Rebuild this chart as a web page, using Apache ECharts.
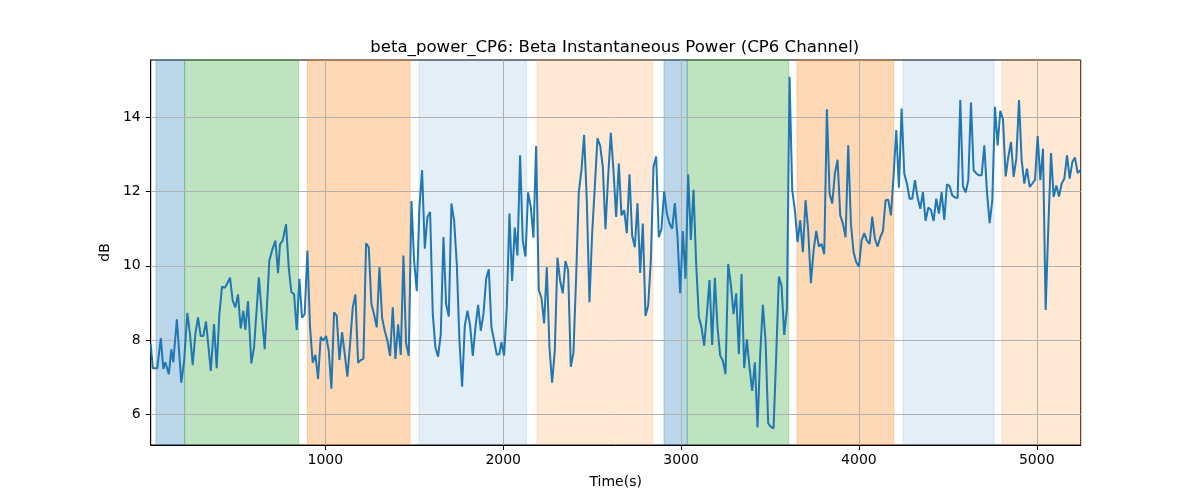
<!DOCTYPE html>
<html>
<head>
<meta charset="utf-8">
<script src="https://cdn.jsdelivr.net/npm/echarts@6/dist/echarts.min.js"></script>
<style>
html,body{margin:0;padding:0;background:#fff;}
#chart{width:1200px;height:500px;}
</style>
</head>
<body>
<div id="chart"></div>
<script>
const titleText = 'beta_power_CP6: Beta Instantaneous Power (CP6 Channel)';
const xName = 'Time(s)';
const yName = 'dB';
const xTicks = [1000, 2000, 3000, 4000, 5000];
const yTicks = [6, 8, 10, 12, 14];

const times = [
  18, 30, 55, 75, 89, 100, 120, 134, 145, 165, 190, 206, 224, 239, 254, 269, 284, 299, 314, 329,
  356, 374, 389, 404, 419, 434, 446, 464, 479, 494, 509, 524, 539, 550, 565, 584, 599, 626, 659, 685,
  700, 719, 734, 745, 760, 779, 794, 809, 824, 839, 854, 869, 884, 899, 914, 929, 944, 959, 974, 989,
  1004, 1019, 1034, 1049, 1064, 1079, 1094, 1109, 1124, 1139, 1154, 1169, 1184, 1199, 1214, 1229, 1244, 1259, 1274, 1289,
  1304, 1319, 1334, 1349, 1364, 1379, 1394, 1409, 1424, 1439, 1454, 1469, 1484, 1499, 1514, 1529, 1544, 1559, 1574, 1589,
  1604, 1619, 1634, 1649, 1664, 1679, 1694, 1709, 1724, 1739, 1754, 1769, 1784, 1799, 1814, 1829, 1844, 1859, 1874, 1889,
  1904, 1919, 1934, 1949, 1964, 1978, 1990, 2005, 2020, 2035, 2050, 2065, 2080, 2095, 2110, 2125, 2140, 2155, 2170, 2185,
  2200, 2215, 2230, 2245, 2260, 2275, 2290, 2305, 2320, 2335, 2350, 2365, 2380, 2395, 2410, 2425, 2440, 2455, 2470, 2485,
  2500, 2515, 2530, 2545, 2560, 2575, 2590, 2605, 2620, 2635, 2650, 2665, 2680, 2695, 2710, 2725, 2740, 2755, 2770, 2785,
  2800, 2815, 2830, 2845, 2860, 2875, 2890, 2905, 2920, 2935, 2950, 2965, 2980, 2995, 3010, 3025, 3040, 3055, 3070, 3085,
  3100, 3115, 3130, 3145, 3160, 3175, 3190, 3205, 3220, 3235, 3250, 3265, 3280, 3295, 3310, 3325, 3340, 3355, 3370, 3385,
  3400, 3415, 3430, 3445, 3460, 3475, 3490, 3505, 3520, 3535, 3550, 3565, 3580, 3595, 3610, 3625, 3640, 3655, 3670, 3685,
  3700, 3715, 3730, 3745, 3760, 3775, 3790, 3805, 3820, 3835, 3850, 3865, 3880, 3895, 3910, 3925, 3940, 3955, 3970, 3985,
  4000, 4015, 4030, 4045, 4060, 4075, 4090, 4105, 4120, 4135, 4150, 4165, 4180, 4195, 4210, 4225, 4240, 4255, 4270, 4285,
  4300, 4315, 4330, 4345, 4360, 4375, 4390, 4405, 4420, 4435, 4450, 4465, 4480, 4495, 4510, 4525, 4540, 4555, 4570, 4585,
  4600, 4615, 4630, 4645, 4660, 4675, 4690, 4705, 4720, 4735, 4750, 4765, 4780, 4795, 4810, 4825, 4840, 4855, 4870, 4885,
  4900, 4915, 4930, 4945, 4960, 4975, 4990, 5005, 5020, 5035, 5050, 5065, 5080, 5095, 5110, 5125, 5140, 5155, 5170, 5185,
  5200, 5215, 5230, 5245
];

const values = [
  7.90, 7.24, 7.24, 8.05, 7.22, 7.40, 7.08, 7.75, 7.40, 8.56, 6.85, 7.44, 8.73, 8.16, 7.32, 8.16, 8.61, 8.11, 8.11, 8.50,
  7.17, 8.43, 7.24, 8.69, 9.44, 9.41, 9.50, 9.68, 9.06, 8.88, 9.23, 8.31, 8.79, 8.27, 9.05, 7.37, 7.80, 9.69, 7.75, 10.14,
  10.41, 10.68, 9.80, 10.58, 10.68, 11.12, 9.96, 9.29, 9.24, 8.27, 9.65, 8.60, 8.70, 10.41, 8.34, 7.39, 7.60, 6.95, 8.09, 7.98,
  8.11, 7.71, 6.69, 8.75, 8.65, 7.46, 8.21, 7.62, 7.01, 7.90, 8.88, 9.23, 7.39, 7.46, 7.49, 10.61, 10.50, 8.97, 8.69, 8.34,
  9.96, 8.60, 8.25, 7.98, 7.57, 8.88, 7.49, 8.42, 7.60, 10.28, 7.91, 7.57, 11.75, 10.14, 9.32, 11.59, 12.58, 10.46, 11.32, 11.45,
  8.70, 7.79, 7.55, 8.16, 10.78, 8.97, 8.63, 11.68, 11.22, 10.05, 7.98, 6.74, 8.39, 8.79, 8.39, 7.57, 8.34, 8.95, 8.25, 8.70,
  9.65, 9.91, 8.34, 7.98, 7.60, 7.62, 7.94, 7.58, 8.88, 11.41, 9.59, 11.03, 10.28, 12.98, 10.68, 10.25, 11.98, 11.59, 10.76, 13.23,
  9.35, 9.14, 8.45, 9.96, 7.80, 6.85, 7.71, 10.22, 9.60, 9.26, 10.13, 9.88, 7.28, 7.66, 9.70, 11.99, 12.58, 13.53, 11.77, 9.02,
  10.87, 12.13, 13.44, 13.24, 12.67, 10.99, 12.40, 13.59, 12.58, 11.32, 12.76, 11.36, 11.50, 10.88, 12.47, 10.82, 10.50, 11.69, 9.81, 11.14,
  8.65, 8.93, 10.14, 12.67, 12.95, 10.77, 11.00, 12.01, 11.41, 11.14, 11.00, 11.69, 10.77, 9.26, 10.94, 9.65, 12.47, 10.70, 12.05, 10.05,
  8.63, 8.34, 7.85, 8.70, 9.62, 7.87, 9.68, 8.34, 7.58, 7.44, 7.08, 10.05, 9.50, 8.70, 9.26, 7.62, 9.78, 7.24, 8.02, 7.26,
  6.63, 7.40, 5.64, 7.62, 8.95, 7.98, 5.75, 5.66, 5.62, 7.58, 9.71, 9.46, 8.14, 8.84, 15.10, 12.04, 11.50, 10.64, 11.23, 10.37,
  11.77, 10.95, 9.53, 10.41, 10.94, 10.52, 10.59, 10.31, 14.22, 11.95, 11.68, 12.49, 12.86, 11.36, 11.14, 10.77, 13.25, 11.14, 10.37, 10.10,
  9.98, 10.68, 10.88, 10.68, 10.59, 11.33, 10.73, 10.52, 10.77, 10.94, 11.77, 11.78, 11.36, 12.44, 13.66, 12.11, 14.24, 12.49, 12.22, 11.81,
  11.81, 12.31, 11.84, 11.54, 11.99, 11.21, 11.57, 11.51, 11.21, 11.81, 11.41, 11.99, 11.24, 12.20, 12.15, 11.90, 11.84, 11.83, 14.47, 12.14,
  11.98, 12.31, 14.40, 12.58, 12.49, 12.44, 12.44, 13.25, 11.99, 11.15, 11.77, 14.29, 13.25, 14.18, 13.95, 12.41, 12.94, 13.34, 12.40, 12.89,
  14.47, 12.85, 12.22, 12.62, 12.13, 12.22, 12.32, 13.50, 12.31, 13.16, 8.81, 11.05, 13.04, 11.86, 12.17, 11.87, 12.22, 12.35, 12.98, 12.35,
  12.80, 12.92, 12.50, 12.58
];

const bandStart = [48, 209, 899, 1527, 2190, 2904, 3035, 3652, 4248, 4805];
const bandEnd   = [209, 850, 1476, 2132, 2841, 3035, 3605, 4196, 4760, 5247];
const bandKind  = ['blue', 'green', 'orange', 'lightblue', 'lightorange', 'blue', 'green', 'orange', 'lightblue', 'lightorange'];

// styles
const bandColors = {
  blue: 'rgba(31,119,180,0.3)',
  green: 'rgba(44,160,44,0.3)',
  orange: 'rgba(255,127,14,0.3)',
  lightblue: 'rgba(31,119,180,0.12)',
  lightorange: 'rgba(255,127,14,0.18)'
};
const FONT = 'DejaVu Sans';
const X_MIN = 18, X_MAX = 5247, Y_MIN = 5.17, Y_MAX = 15.55;

const lineData = times.map((t, i) => [t, values[i]]);
const areaData = bandStart.map((s, i) => [
  { xAxis: s, itemStyle: { color: bandColors[bandKind[i]], borderColor: bandColors[bandKind[i]], borderWidth: 1 } },
  { xAxis: bandEnd[i] }
]);

const chart = echarts.init(document.getElementById('chart'), null, { renderer: 'canvas' });
chart.setOption({
  animation: false,
  backgroundColor: '#ffffff',
  title: {
    text: titleText,
    left: 609.7,
    textAlign: 'center',
    top: 34,
    textStyle: { fontFamily: FONT, fontSize: 16.6, fontWeight: 'normal', color: '#000' }
  },
  grid: {
    left: 150.7, right: 119.3, top: 60, bottom: 55,
    show: true, borderColor: '#000', borderWidth: 1, backgroundColor: 'transparent'
  },
  xAxis: {
    type: 'value', min: X_MIN, max: X_MAX, z: 1.5,
    name: xName, nameLocation: 'middle', nameGap: 30,
    nameTextStyle: { fontFamily: FONT, fontSize: 14, color: '#000' },
    axisLine: { show: true, onZero: false, lineStyle: { color: '#000', width: 1 } },
    axisTick: { show: true, length: 5, customValues: xTicks, lineStyle: { color: '#000' } },
    axisLabel: { customValues: xTicks, margin: 8, fontFamily: FONT, fontSize: 14, color: '#000',
                 formatter: v => String(v) },
    splitLine: { show: true, lineStyle: { color: '#b0b0b0', width: 1 } }
  },
  yAxis: {
    type: 'value', min: Y_MIN, max: Y_MAX, z: 1.5,
    name: yName, nameLocation: 'middle', nameGap: 28,
    nameTextStyle: { fontFamily: FONT, fontSize: 14, color: '#000' },
    axisLine: { show: true, onZero: false, lineStyle: { color: '#000', width: 1 } },
    axisTick: { show: true, length: 5, customValues: yTicks, lineStyle: { color: '#000' } },
    axisLabel: { customValues: yTicks, margin: 10, fontFamily: FONT, fontSize: 14, color: '#000',
                 formatter: v => String(v) },
    splitLine: { show: true, lineStyle: { color: '#b0b0b0', width: 1 } }
  },
  series: [
    {
      type: 'line', z: 1, data: [], silent: true,
      markArea: { silent: true, data: areaData }
    },
    {
      type: 'line', z: 3, data: lineData, showSymbol: false, symbol: 'none',
      lineStyle: { color: '#1f77b4', width: 2 }, itemStyle: { color: '#1f77b4' }
    }
  ]
});
</script>
</body>
</html>
